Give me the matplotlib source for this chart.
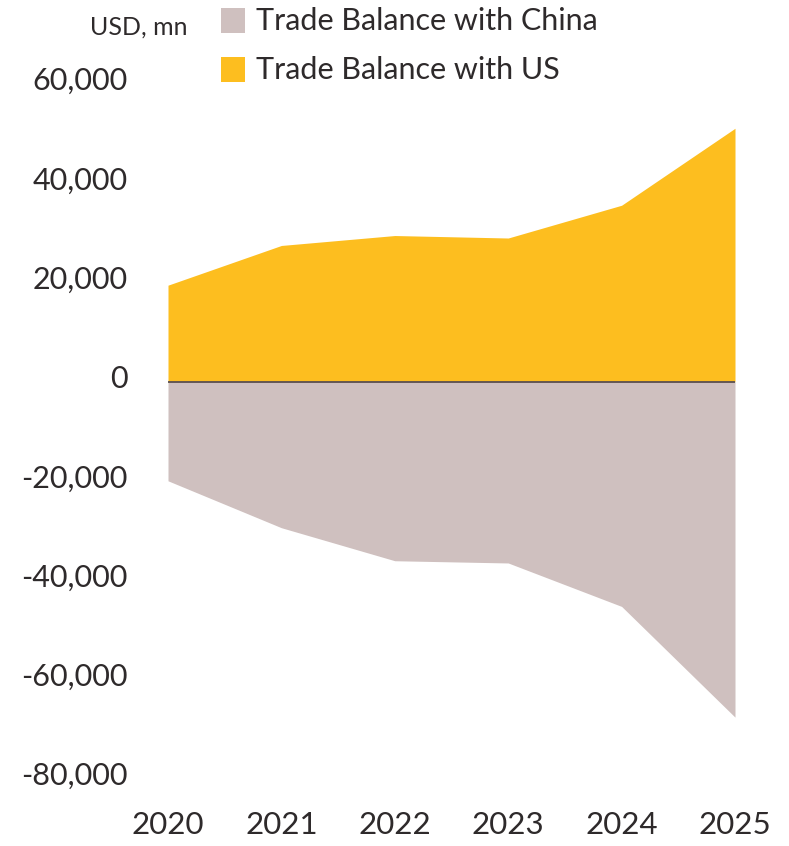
import matplotlib
matplotlib.use("Agg")
import matplotlib.pyplot as plt
import matplotlib.transforms as mtransforms
from matplotlib.patches import Rectangle

years = [2020, 2021, 2022, 2023, 2024, 2025]
us_balance = [19400, 27400, 29400, 28900, 35500, 51000]
china_balance = [-20000, -29450, -36100, -36550, -45300, -67600]
y_ticks = [60000, 40000, 20000, 0, -20000, -40000, -60000, -80000]
y_tick_labels = ["60,000", "40,000", "20,000", "0", "-20,000", "-40,000", "-60,000", "-80,000"]
unit_label = "USD, mn"
legend_labels = ["Trade Balance with China", "Trade Balance with US"]

COL_US = "#FDBE1F"
COL_CN = "#CFC0BF"
TXT = "#2E2A2B"

plt.rcParams["font.family"] = ["Lato", "DejaVu Sans"]

W, H = 789, 846
fig = plt.figure(figsize=(W / 100, H / 100), dpi=100)

def px_to_fig(x, y):
    return x / W, 1 - y / H

top_px = 381.5 - 60000 * 99.3 / 20000
bot_px = 381.5 + 80000 * 99.3 / 20000
left_px, right_px = 168, 735
ax = fig.add_axes([left_px / W, 1 - bot_px / H, (right_px - left_px) / W, (bot_px - top_px) / H])

ax.fill_between(years, 0, us_balance, color=COL_US, linewidth=0)
ax.fill_between(years, 0, china_balance, color=COL_CN, linewidth=0)
ax.plot([years[0], years[-1]], [0, 0], color="#5A4F4F", linewidth=1.3)

ax.set_xlim(years[0], years[-1])
ax.set_ylim(-80000, 60000)
ax.set_yticks(y_ticks)
ax.set_yticklabels(y_tick_labels)
ax.set_xticks(years)
ax.set_xticklabels([str(y) for y in years])
for s in ax.spines.values():
    s.set_visible(False)
ax.tick_params(axis="y", length=0, pad=29, labelsize=22, labelcolor=TXT)
ax.tick_params(axis="x", length=0, pad=23, labelsize=22.5, labelcolor=TXT)
offset = mtransforms.ScaledTranslation(0, 5 / 100, fig.dpi_scale_trans)
for lab in ax.get_yticklabels():
    lab.set_transform(lab.get_transform() + offset)
ax.set_facecolor("none")

# unit label
x, y = px_to_fig(188, 27)
fig.text(x, y, unit_label, ha="right", va="center", fontsize=18, color=TXT)

# legend
for i, (lab, col) in enumerate(zip(legend_labels, [COL_CN, COL_US])):
    cy = 21 + i * 49
    x0, y0 = px_to_fig(221, cy + 12.5)
    fig.add_artist(Rectangle((x0, y0), 24 / W, 25 / H, transform=fig.transFigure,
                             facecolor=col, edgecolor="none"))
    tx, ty = px_to_fig(256, cy)
    fig.text(tx, ty, lab, ha="left", va="center", fontsize=22, color=TXT)

fig.savefig("out.png", dpi=100)
